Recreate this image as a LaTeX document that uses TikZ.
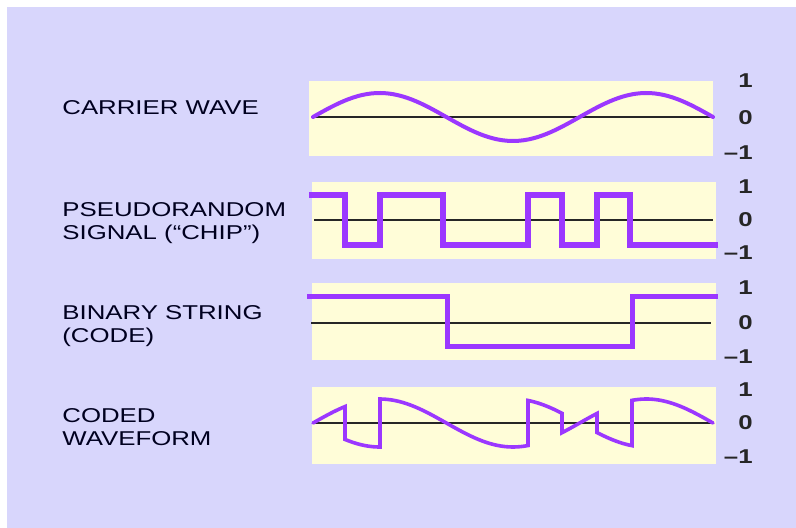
\documentclass[tikz,border=0pt]{standalone}
\usepackage{fontspec}
\newfontfamily\lblfont[FakeStretch=1.29]{Liberation Sans}
\definecolor{lavender}{RGB}{216,214,252}
\definecolor{paneyellow}{RGB}{255,253,216}
\definecolor{wavepurple}{RGB}{155,55,255}
\begin{document}
\begin{tikzpicture}[x=0.5pt, y=-0.5pt,
		declare function={cw(\t)=24*sin((\t-313)*1.35);},
		panel/.style={fill=paneyellow},
		zero/.style={line width=0.7pt, black!85},
		sig/.style={draw=wavepurple, line join=round, line cap=round},
		sigtext/.style={font=\lblfont\fontsize{10}{11.5}\selectfont, text=black!80!blue!60!black, anchor=west, align=left, inner sep=0pt},
		tick/.style={font=\lblfont\bfseries\fontsize{10}{11}\selectfont, text=black!85, anchor=east, inner sep=0pt}]
	\useasboundingbox (0,0) rectangle (796,528);
	\fill[lavender] (7,7) rectangle (796,528);
	% \draw[help lines] (0,0) grid[step=50] (796,528);

	\fill[panel] (309,81) rectangle (713,156);
	\fill[panel] (312,182) rectangle (716,259);
	\fill[panel] (312,283) rectangle (716,360);
	\fill[panel] (312,387) rectangle (716,464);

	\draw[zero] (313,117) -- (713,117);
	\draw[zero] (314,220) -- (713,220);
	\draw[zero] (311,323) -- (711,323);
	\draw[zero] (313,423) -- (713,423);

	% carrier
	\draw[sig, line width=2pt] plot[domain=313:713, samples=90] (\x,{117-cw(\x)});
	% chip
	\draw[sig, line width=3.4pt, line join=miter, line cap=butt] (309,195) -- (345,195) -- (345,245) -- (380,245) -- (380,195)
		-- (443,195) -- (443,245) -- (528,245) -- (528,195) -- (562,195) -- (562,245) -- (597,245) -- (597,195)
		-- (630,195) -- (630,245) -- (718,245);
	% code
	\draw[sig, line width=2.5pt, line join=miter, line cap=butt] (307,297) -- (447,297) -- (447,347) -- (632,347) -- (632,297) -- (718,297);
	% coded waveform
	\draw[sig, line width=1.8pt, line join=miter] plot[domain=313:345, samples=12] (\x,{423-cw(\x)})
		-- plot[domain=345:380, samples=12] (\x,{423+cw(\x)})
		-- plot[domain=380:528, samples=40] (\x,{423-cw(\x)})
		-- plot[domain=528:562, samples=12] (\x,{423+cw(\x)})
		-- plot[domain=562:597, samples=12] (\x,{423-cw(\x)})
		-- plot[domain=597:632, samples=12] (\x,{423+cw(\x)})
		-- plot[domain=632:713, samples=25] (\x,{423-cw(\x)});

	\node[sigtext] (carrier) at (62,108) {CARRIER WAVE};
	\node[sigtext] (chip) at (62,223.5) {PSEUDORANDOM\\SIGNAL (“CHIP”)};
	\node[sigtext] (code) at (62,326.5) {BINARY STRING\\(CODE)};
	\node[sigtext] (coded) at (62,427.5) {CODED\\WAVEFORM};

	\node[tick] (carrier1) at (753,81) {1};
	\node[tick] (carrier0) at (753,118) {0};
	\node[tick] (carrierm) at (753,153) {–1};
	\node[tick] (chip1) at (753,187) {1};
	\node[tick] (chip0) at (753,220) {0};
	\node[tick] (chipm) at (753,253) {–1};
	\node[tick] (code1) at (753,288) {1};
	\node[tick] (code0) at (753,323) {0};
	\node[tick] (codem) at (753,357) {–1};
	\node[tick] (coded1) at (753,390) {1};
	\node[tick] (coded0) at (753,423) {0};
	\node[tick] (codedm) at (753,457) {–1};
\end{tikzpicture}
\end{document}
